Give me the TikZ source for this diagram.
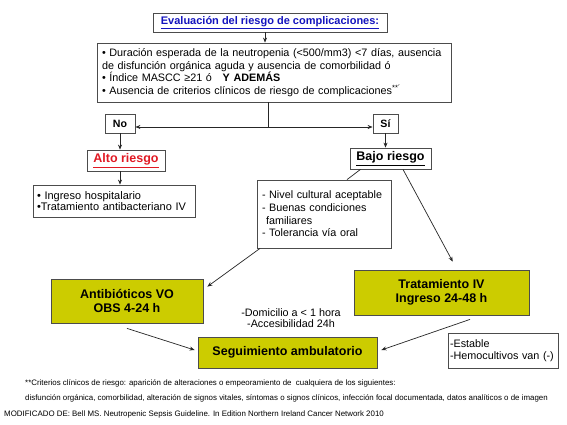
\documentclass[tikz,border=0pt]{standalone}
\usepackage{fontspec}
\setmainfont{Liberation Sans}
\usetikzlibrary{arrows.meta}
\definecolor{oliva}{RGB}{204,204,0}
\definecolor{azultit}{RGB}{20,20,190}
\definecolor{rojo}{RGB}{225,25,35}

\begin{document}
\begin{tikzpicture}[
    x=1pt, y=-1pt,
    >={Stealth[length=5pt,width=4pt]},
    caja/.style={draw=black!70, line width=0.8pt, fill=white, inner sep=5pt, align=left, font=\fontsize{10.8}{12.7}\selectfont},
    etiq/.style={caja, align=center, inner sep=2pt, font=\bfseries\fontsize{10.6}{12}\selectfont},
    riesgo/.style={caja, align=center, inner sep=2pt, font=\bfseries\fontsize{12.5}{14}\selectfont},
    accion/.style={draw=black!70, line width=0.8pt, fill=oliva, align=center, font=\bfseries\fontsize{12.5}{14}\selectfont},
    flecha/.style={->, line width=0.7pt, draw=black!85},
    nota/.style={anchor=west, inner sep=0pt, font=\fontsize{7.9}{9}\selectfont}
  ]
    \fill[white] (0,0) rectangle (567,425);
    \useasboundingbox (0,0) rectangle (567,425);

    \node[etiq, minimum width=234pt, minimum height=19pt, font=\bfseries\fontsize{11}{12}\selectfont] (titulo) at (270,22.5)
      {\textcolor{azultit}{\underline{Evaluación del riesgo de complicaciones:}}};
    \node[caja, text width=344pt, minimum height=59pt] (crit) at (274,72.5)
      {• Duración esperada de la neutropenia (<500/mm3) <7 días, ausencia\\
       de disfunción orgánica aguda y ausencia de comorbilidad ó\\
       • Índice MASCC ≥21 ó \ \ \textbf{Y ADEMÁS}\\
       • Ausencia de criterios clínicos de riesgo de complicaciones\textsuperscript{**´}};
    \node[etiq, minimum width=30pt, minimum height=19pt] (no) at (120,123.5) {No};
    \node[etiq, minimum width=25pt, minimum height=19pt] (si) at (385.5,123.5) {Sí};
    \node[riesgo, minimum width=78pt, minimum height=21pt] (alto) at (126,160.5)
      {\textcolor{rojo}{\underline{Alto riesgo}}};
    \node[riesgo, minimum width=81pt, minimum height=21pt] (bajo) at (390.5,158.5)
      {\underline{Bajo riesgo}};
    \node[caja, text width=154pt, inner sep=4pt, minimum height=32pt, font=\fontsize{11}{11.8}\selectfont] (ingreso) at (114,201)
      {• Ingreso hospitalario\\•Tratamiento antibacteriano IV};
    \node[caja, text width=124pt, minimum height=68pt] (nivel) at (324,214)
      {- Nivel cultural aceptable\\- Buenas condiciones\\\hspace*{4pt}familiares\\- Tolerancia vía oral};
    \node[accion, minimum width=152pt, minimum height=44pt] (antib) at (127,301)
      {Antibióticos VO\\OBS 4-24 h};
    \node[accion, minimum width=175pt, minimum height=45pt, font=\bfseries\fontsize{12.5}{13.5}\selectfont] (trat) at (441.5,292.5)
      {Tratamiento IV\\Ingreso 24-48 h};
    \node[accion, minimum width=179pt, minimum height=31pt] (seg) at (287.5,352.5)
      {Seguimiento ambulatorio};
    \node[caja, text width=106pt, inner sep=2pt, minimum height=35pt, font=\fontsize{10.8}{11.5}\selectfont] (estable) at (503,350.5)
      {-Estable\\-Hemocultivos van (-)};
    \node[align=center, inner sep=0pt, font=\fontsize{10.8}{11.5}\selectfont] (domicilio) at (291,318)
      {-Domicilio a < 1 hora\\-Accesibilidad 24h};

    \node[nota] (nota1) at (25,383)
      {**Criterios clínicos de riesgo: aparición de alteraciones o empeoramiento de \ cualquiera de los siguientes:};
    \node[nota] (nota2) at (25,398)
      {disfunción orgánica, comorbilidad, alteración de signos vitales, síntomas o signos clínicos, infección focal documentada, datos analíticos o de imagen};
    \node[nota] (fuente) at (4,414)
      {MODIFICADO DE: Bell MS. Neutropenic Sepsis Guideline. In Edition Northern Ireland Cancer Network 2010};

    \coordinate (split) at (268,127);
    \draw[flecha] ([xshift=-5pt]titulo.south) -- ([xshift=-5pt]titulo.south |- crit.north);
    \draw[line width=0.8pt, draw=black!85] (crit.south -| split) -- (split);
    \draw[flecha] (split) -- (split -| no.east);
    \draw[flecha] (split) -- (split -| si.west);
    \draw[flecha] (no.south) -- (no.south |- alto.north);
    \draw[flecha] (no.south |- alto.south) -- (no.south |- ingreso.north);
    \draw[flecha] (si.south) -- (si.south |- bajo.north);
    \draw[line width=0.7pt, draw=black!85] ([xshift=-30pt]bajo.south) -- ([xshift=23pt]nivel.north);
    \draw[flecha, shorten >=9pt] ([xshift=12.5pt]bajo.south) -- ([xshift=15.5pt]trat.north);
    \draw[flecha] ([xshift=-64pt]nivel.south) -- ([xshift=4pt,yshift=-8pt]antib.north east);
    \draw[flecha] ([yshift=-5pt]antib.south) -- ([xshift=-3pt,yshift=2.5pt]seg.west);
    \draw[flecha] ([xshift=28.5pt,yshift=-4pt]trat.south) -- ([xshift=4pt,yshift=2.5pt]seg.east);
  \end{tikzpicture}
\end{document}
